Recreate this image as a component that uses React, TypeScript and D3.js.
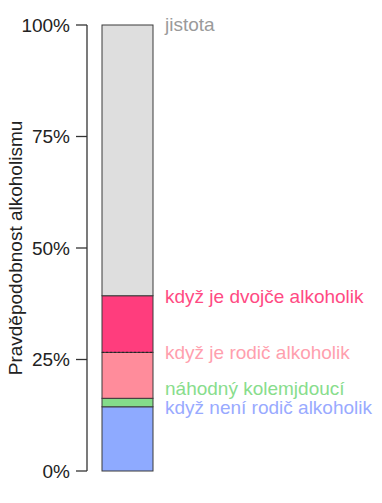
import React from "react";
import * as d3 from "d3";

const categories = [
  "když není rodič alkoholik",
  "náhodný kolemjdoucí",
  "když je rodič alkoholik",
  "když je dvojče alkoholik",
  "jistota",
];
const values = [14.4, 1.9, 10.3, 12.7, 60.7];
const fills = ["#8eaaff", "#84dc8a", "#ff8c9b", "#ff3d7d", "#dedede"];
const textColors = ["#99aaff", "#88dd8c", "#ff9fae", "#ff4a83", "#9a9a9a"];
const tickValues = [0, 25, 50, 75, 100];
const tickLabels = ["0%", "25%", "50%", "75%", "100%"];
const yTitle = "Pravděpodobnost alkoholismu";

export default function App() {
  const W = 382, H = 503;
  const y = d3.scaleLinear().domain([0, 100]).range([471, 25]);
  const x = d3.scaleBand().domain(["a"]).range([102, 153]).padding(0);
  const cum: number[] = [];
  let s = 0;
  values.forEach((v) => { cum.push(s); s += v; });
  const font = "Liberation Sans, Arial, sans-serif";
  const labelDy = [0.5, -10, 0, 0, 0];
  const axisX = 87;
  const fs = 19;
  return (
    <svg width={W} height={H} style={{ position: "absolute", left: 0, top: 0 }}>
      <rect width={W} height={H} fill="white" />
      {values.map((v, i) => (
        <rect
          key={i}
          x={x("a")}
          y={y(cum[i] + v)}
          width={x.bandwidth()}
          height={y(cum[i]) - y(cum[i] + v)}
          fill={fills[i]}
          stroke="#3a3a3a"
          strokeWidth={1}
        />
      ))}
      <line
        x1={x("a")}
        x2={(x("a") as number) + x.bandwidth()}
        y1={y(cum[2] + values[2])}
        y2={y(cum[2] + values[2])}
        stroke="#222"
        strokeDasharray="2,2"
      />
      <line x1={axisX} x2={axisX} y1={y(0)} y2={y(100)} stroke="#333" strokeWidth={1.3} />
      {tickValues.map((t, i) => (
        <g key={t}>
          <line x1={axisX - 11} x2={axisX} y1={y(t)} y2={y(t)} stroke="#333" strokeWidth={1.3} />
          <text
            x={70}
            y={y(t)}
            dy="0.36em"
            textAnchor="end"
            fontFamily={font}
            fontSize={fs}
            fill="#222"
          >
            {tickLabels[i]}
          </text>
        </g>
      ))}
      <text
        transform={`translate(15,${(y(0) + y(100)) / 2}) rotate(-90)`}
        dy="0.36em"
        textAnchor="middle"
        fontFamily={font}
        fontSize={fs}
        fill="#222"
      >
        {yTitle}
      </text>
      {categories.map((c, i) => (
        <text
          key={c}
          x={165}
          y={y(cum[i] + values[i]) + labelDy[i]}
          dy={i === 4 ? "0.3em" : "0.36em"}
          fontFamily={font}
          fontSize={fs}
          fill={textColors[i]}
        >
          {c}
        </text>
      ))}
    </svg>
  );
}
